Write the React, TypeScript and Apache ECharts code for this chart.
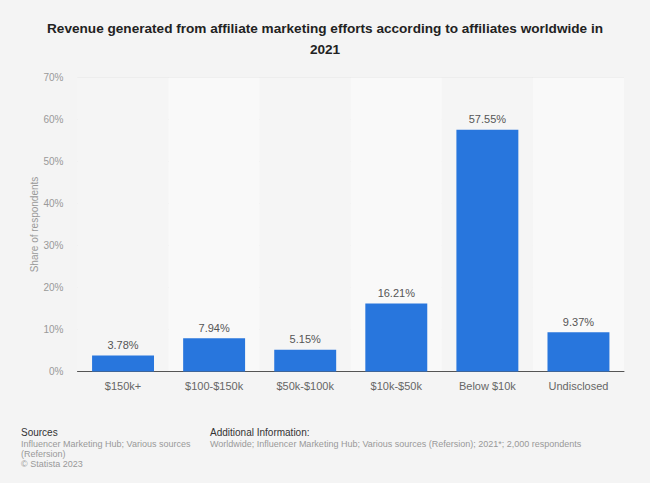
import React, { useEffect, useRef } from "react";
import * as echarts from "echarts";

const categories = ["$150k+", "$100-$150k", "$50k-$100k", "$10k-$50k", "Below $10k", "Undisclosed"];
const shares = [3.78, 7.94, 5.15, 16.21, 57.55, 9.37];
const yTicks = [0, 10, 20, 30, 40, 50, 60, 70];

const titleText = "Revenue generated from affiliate marketing efforts according to affiliates worldwide in\n2021";
const yAxisName = "Share of respondents";
const sourcesHead = "Sources";
const sourcesBody = "Influencer Marketing Hub; Various sources\n(Refersion)\n© Statista 2023";
const addHead = "Additional Information:";
const addBody = "Worldwide; Influencer Marketing Hub; Various sources (Refersion); 2021*; 2,000 respondents";

const FONT = "'Liberation Sans', Arial, Helvetica, sans-serif";

export default function App() {
  const ref = useRef<HTMLDivElement>(null);
  useEffect(() => {
    if (!ref.current) return;
    const chart = echarts.init(ref.current, undefined, { renderer: "svg" });
    chart.setOption({
      animation: false,
      backgroundColor: "#f4f4f4",
      textStyle: { fontFamily: FONT },
      title: {
        text: titleText,
        left: "center",
        top: 13,
        textStyle: { fontSize: 13.6, fontWeight: "bold", color: "#222", lineHeight: 21, fontFamily: FONT },
      },
      grid: { left: 77.5, right: 26, top: 77.5, bottom: 111.5, containLabel: false },
      xAxis: {
        type: "category",
        data: categories,
        axisLine: { show: true, lineStyle: { color: "#555", width: 1 } },
        axisTick: { show: false },
        axisLabel: { color: "#666", fontSize: 11, margin: 9, interval: 0 },
        splitArea: { show: true, areaStyle: { color: ["#f5f5f5", "#f9f9f9"] } },
      },
      yAxis: {
        type: "value",
        min: yTicks[0],
        max: yTicks[yTicks.length - 1],
        interval: 10,
        name: yAxisName,
        nameLocation: "middle",
        nameGap: 38,
        nameMoveOverlap: false,
        nameTextStyle: { color: "#999", fontSize: 10 },
        axisLine: { show: false },
        axisTick: { show: false },
        axisLabel: { color: "#999", fontSize: 10, margin: 14, formatter: (v: number) => v + "%" },
        splitLine: { lineStyle: { color: "#e4e4e4", width: 1 } },
      },
      series: [
        {
          type: "bar",
          data: shares,
          barCategoryGap: "32%",
          itemStyle: { color: "#2876dd" },
          label: {
            show: true,
            position: "top",
            distance: 5,
            color: "#555",
            fontSize: 11,
            formatter: (p: any) => p.value.toFixed(2) + "%",
          },
        },
      ],
      graphic: [
        { type: "text", left: 21, top: 427, style: { text: sourcesHead, fill: "#333", fontSize: 10, fontFamily: FONT } },
        { type: "text", left: 21, top: 439, style: { text: sourcesBody, fill: "#999", fontSize: 9, lineHeight: 10, fontFamily: FONT } },
        { type: "text", left: 210, top: 427, style: { text: addHead, fill: "#333", fontSize: 10, fontFamily: FONT } },
        { type: "text", left: 210, top: 439, style: { text: addBody, fill: "#999", fontSize: 9, fontFamily: FONT } },
      ],
    });
    return () => chart.dispose();
  }, []);
  return <div ref={ref} style={{ position: "fixed", left: 0, top: 0, width: 650, height: 483 }} />;
}
